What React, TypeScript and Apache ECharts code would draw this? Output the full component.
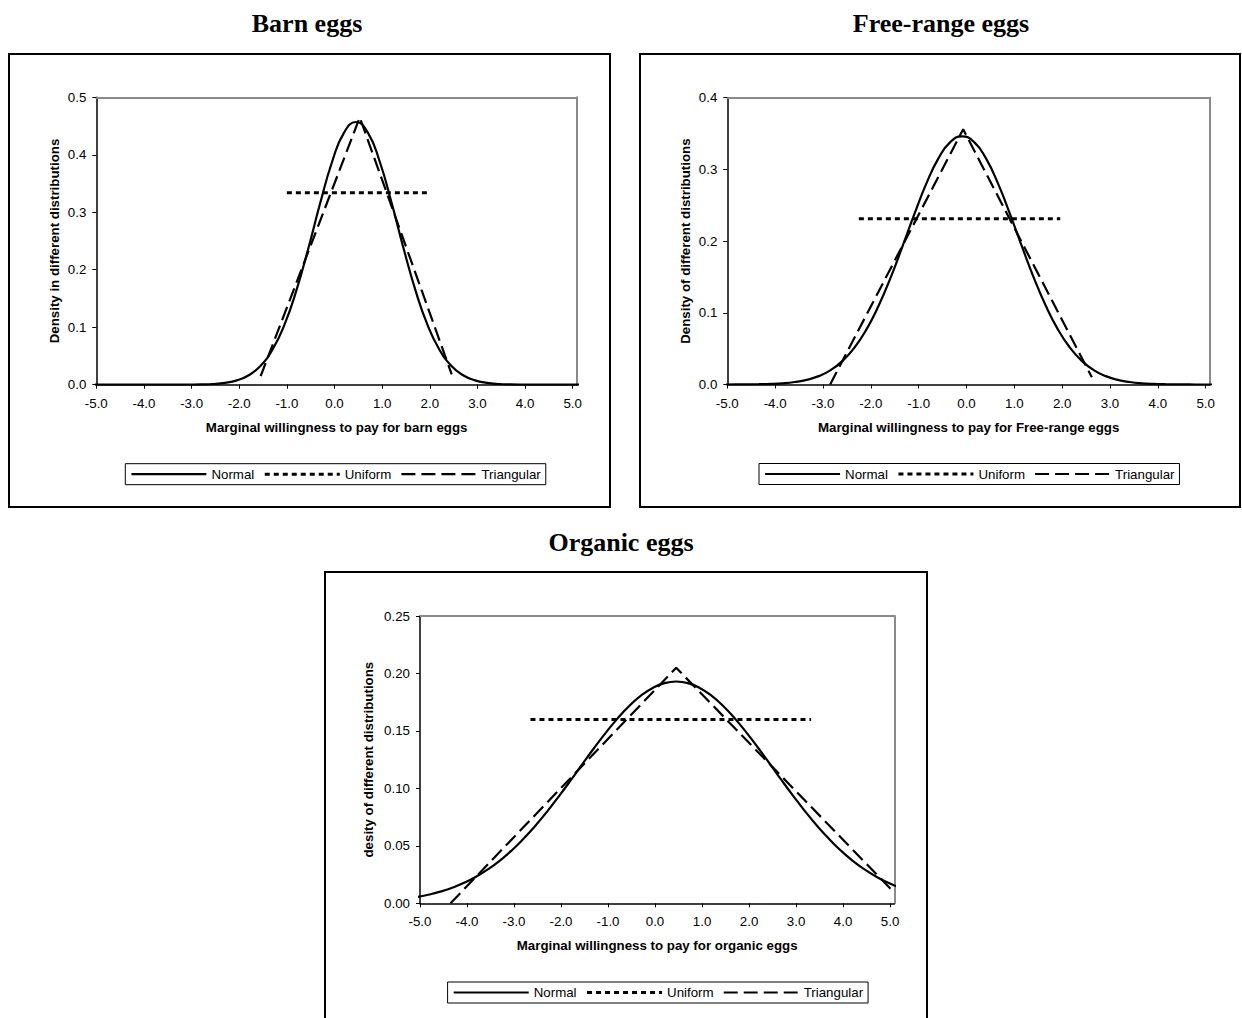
import React, { useEffect, useRef } from "react";
import * as echarts from "echarts";

// ---------- data ----------
const X_TICKS = [-5, -4, -3, -2, -1, 0, 1, 2, 3, 4, 5];

// sample points of the normal curves, centred on each curve's mode
const BARN_X = [
  -5.05, -4.8, -4.55, -4.3, -4.05, -3.8, -3.55, -3.3, -3.05, -2.8, -2.55, -2.3, -2.05, -1.8, -1.55, -1.3, -1.05, -0.8,
  -0.55, -0.3, -0.05, 0.2, 0.45, 0.7, 0.95, 1.2, 1.45, 1.7, 1.95, 2.2, 2.45, 2.7, 2.95, 3.2, 3.45, 3.7, 3.95, 4.2,
  4.45, 4.7, 4.95, 5.2,
];
const BARN_NORMAL = [
  0, 0, 0, 0, 0, 0, 0, 0, 0.0001, 0.0004, 0.0012, 0.0032, 0.0076, 0.0165, 0.0331, 0.0613, 0.1044, 0.164, 0.2371,
  0.316, 0.3879, 0.4386, 0.457, 0.4386, 0.3879, 0.316, 0.2371, 0.164, 0.1044, 0.0613, 0.0331, 0.0165, 0.0076, 0.0032,
  0.0012, 0.0004, 0.0001, 0, 0, 0, 0, 0,
];
const BARN_UNIFORM_X = [-1.0, 1.96];
const BARN_UNIFORM_Y = [0.334, 0.334];
const BARN_TRI_X = [-1.55, 0.53, 2.46];
const BARN_TRI_Y = [0.015, 0.465, 0.018];

const FREE_X = [
  -5.09, -4.84, -4.59, -4.34, -4.09, -3.84, -3.59, -3.34, -3.09, -2.84, -2.59, -2.34, -2.09, -1.84, -1.59, -1.34, -1.09,
  -0.84, -0.59, -0.34, -0.09, 0.16, 0.41, 0.66, 0.91, 1.16, 1.41, 1.66, 1.91, 2.16, 2.41, 2.66, 2.91, 3.16, 3.41, 3.66,
  3.91, 4.16, 4.41, 4.66, 4.91, 5.16,
];
const FREE_NORMAL = [
  0, 0.0001, 0.0002, 0.0004, 0.0008, 0.0017, 0.0035, 0.0065, 0.0117, 0.0201, 0.033, 0.0516, 0.0769, 0.1094, 0.1484,
  0.1923, 0.2376, 0.2801, 0.315, 0.338, 0.346, 0.338, 0.315, 0.2801, 0.2376, 0.1923, 0.1484, 0.1094, 0.0769, 0.0516,
  0.033, 0.0201, 0.0117, 0.0065, 0.0035, 0.0017, 0.0008, 0.0004, 0.0002, 0.0001, 0, 0,
];
const FREE_UNIFORM_X = [-2.25, 1.96];
const FREE_UNIFORM_Y = [0.231, 0.231];
const FREE_TRI_X = [-2.85, -0.07, 2.62];
const FREE_TRI_Y = [0, 0.356, 0.01];

const ORG_X = [
  -5.05, -4.8, -4.55, -4.3, -4.05, -3.8, -3.55, -3.3, -3.05, -2.8, -2.55, -2.3, -2.05, -1.8, -1.55, -1.3, -1.05, -0.8,
  -0.55, -0.3, -0.05, 0.2, 0.45, 0.7, 0.95, 1.2, 1.45, 1.7, 1.95, 2.2, 2.45, 2.7, 2.95, 3.2, 3.45, 3.7, 3.95, 4.2,
  4.45, 4.7, 4.95, 5.2,
];
const ORG_NORMAL = [
  0.0056, 0.0077, 0.0104, 0.0138, 0.018, 0.0233, 0.0297, 0.0372, 0.046, 0.0561, 0.0673, 0.0796, 0.0929, 0.1067,
  0.1209, 0.1349, 0.1483, 0.1607, 0.1717, 0.1807, 0.1874, 0.1916, 0.193, 0.1916, 0.1874, 0.1807, 0.1717, 0.1607,
  0.1483, 0.1349, 0.1209, 0.1067, 0.0929, 0.0796, 0.0673, 0.0561, 0.046, 0.0372, 0.0297, 0.0233, 0.018, 0.0138,
];
const ORG_UNIFORM_X = [-2.65, 3.32];
const ORG_UNIFORM_Y = [0.16, 0.16];
const ORG_TRI_X = [-4.35, 0.45, 5.05];
const ORG_TRI_Y = [0, 0.205, 0.011];

const TITLES = ["Barn eggs", "Free-range eggs", "Organic eggs"];
const X_NAMES = [
  "Marginal willingness to pay for barn eggs",
  "Marginal willingness to pay for Free-range eggs",
  "Marginal willingness to pay for organic eggs",
];
const Y_NAMES = [
  "Density in different distributions",
  "Density of different distributions",
  "desity of different distributions",
];
const SERIES_NAMES = ["Normal", "Uniform", "Triangular"];

// ---------- layout ----------
const SANS = "Liberation Sans";
const SERIF = "Liberation Serif";
const FS = 13.3;

const PANELS = [
  {
    nx: BARN_X, normal: BARN_NORMAL, ux: BARN_UNIFORM_X, uy: BARN_UNIFORM_Y, tx: BARN_TRI_X, ty: BARN_TRI_Y,
    grid: { left: 96.3, top: 97.3, width: 480.7, height: 287.4 },
    yMax: 0.5, yInt: 0.1, yDec: 1, yNameGap: 35,
    box: { x: 9, y: 54, width: 601, height: 453 },
    title: { x: 307, y: 10 },
    legend: { left: 125.3, top: 463.7 },
  },
  {
    nx: FREE_X, normal: FREE_NORMAL, ux: FREE_UNIFORM_X, uy: FREE_UNIFORM_Y, tx: FREE_TRI_X, ty: FREE_TRI_Y,
    grid: { left: 727.3, top: 97.7, width: 482.7, height: 286.8 },
    yMax: 0.4, yInt: 0.1, yDec: 1, yNameGap: 35,
    box: { x: 640, y: 54, width: 600, height: 453 },
    title: { x: 941, y: 10 },
    legend: { left: 759, top: 463.5 },
  },
  {
    nx: ORG_X, normal: ORG_NORMAL, ux: ORG_UNIFORM_X, uy: ORG_UNIFORM_Y, tx: ORG_TRI_X, ty: ORG_TRI_Y,
    grid: { left: 420, top: 616, width: 474.3, height: 287.3 },
    yMax: 0.25, yInt: 0.05, yDec: 2, yNameGap: 45.5,
    box: { x: 325, y: 572, width: 602, height: 470 },
    title: { x: 621, y: 529 },
    legend: { left: 447.6, top: 982 },
  },
];

function zip(xs: number[], ys: number[]) {
  return xs.map((x, i) => [x, ys[i]]);
}

function buildOption() {
  const grid: any[] = [];
  const xAxis: any[] = [];
  const yAxis: any[] = [];
  const series: any[] = [];
  const legend: any[] = [];
  const title: any[] = [];
  const graphic: any[] = [];

  PANELS.forEach((p, i) => {
    grid.push({ ...p.grid, show: false, outerBoundsMode: "none", containLabel: false });
    const xb = xAxis.length;
    xAxis.push({
      type: "value",
      gridIndex: i,
      position: "bottom",
      min: -5,
      max: 5.09,
      axisLine: { show: true, onZero: false, lineStyle: { color: "#000", width: 1.5 } },
      axisTick: { show: true, length: 4, customValues: X_TICKS, lineStyle: { color: "#000", width: 1 } },
      axisLabel: {
        customValues: X_TICKS,
        formatter: (v: number) => v.toFixed(1),
        margin: 12,
        fontSize: FS,
        color: "#000",
        fontFamily: SANS,
      },
      splitLine: { show: false },
      name: X_NAMES[i],
      nameLocation: "middle",
      nameGap: 36,
      nameTextStyle: { fontFamily: SANS, fontWeight: "bold", fontSize: FS, color: "#000" },
    });
    xAxis.push({
      type: "value",
      gridIndex: i,
      position: "top",
      min: -5,
      max: 5.09,
      axisLine: { show: true, onZero: false, lineStyle: { color: "#8a8a8a", width: 2 } },
      axisTick: { show: false },
      axisLabel: { show: false },
      splitLine: { show: false },
    });
    const yb = yAxis.length;
    yAxis.push({
      type: "value",
      gridIndex: i,
      position: "left",
      min: 0,
      max: p.yMax,
      interval: p.yInt,
      axisLine: { show: true, onZero: false, lineStyle: { color: "#000", width: 1.5 } },
      axisTick: { show: true, length: 4, lineStyle: { color: "#000", width: 1 } },
      axisLabel: {
        formatter: (v: number) => v.toFixed(p.yDec),
        margin: 10,
        fontSize: FS,
        color: "#000",
        fontFamily: SANS,
      },
      splitLine: { show: false },
      name: Y_NAMES[i],
      nameLocation: "middle",
      nameRotate: 90,
      nameGap: p.yNameGap,
      nameTextStyle: { fontFamily: SANS, fontWeight: "bold", fontSize: FS, color: "#000" },
    });
    yAxis.push({
      type: "value",
      gridIndex: i,
      position: "right",
      min: 0,
      max: p.yMax,
      axisLine: { show: true, onZero: false, lineStyle: { color: "#8a8a8a", width: 2 } },
      axisTick: { show: false },
      axisLabel: { show: false },
      splitLine: { show: false },
    });

    series.push({
      type: "line",
      name: SERIES_NAMES[0],
      xAxisIndex: xb,
      yAxisIndex: yb,
      data: zip(p.nx, p.normal),
      smooth: true,
      symbol: "none",
      lineStyle: { color: "#000", width: 2.2, type: "solid" },
      itemStyle: { color: "#000" },
    });
    series.push({
      type: "line",
      name: SERIES_NAMES[1],
      xAxisIndex: xb,
      yAxisIndex: yb,
      data: zip(p.ux, p.uy),
      symbol: "none",
      lineStyle: { color: "#000", width: 3, type: [5, 4] },
      itemStyle: { color: "#000" },
    });
    series.push({
      type: "line",
      name: SERIES_NAMES[2],
      xAxisIndex: xb,
      yAxisIndex: yb,
      data: zip(p.tx, p.ty),
      symbol: "none",
      lineStyle: { color: "#000", width: 2.2, type: [14, 6] },
      itemStyle: { color: "#000" },
    });

    legend.push({
      data: SERIES_NAMES,
      left: p.legend.left,
      top: p.legend.top,
      orient: "horizontal",
      itemWidth: 75,
      itemHeight: 14,
      itemGap: 9,
      padding: [4, 5],
      borderColor: "#000",
      borderWidth: 1,
      borderRadius: 0,
      backgroundColor: "#fff",
      selectedMode: false,
      textStyle: { fontFamily: SANS, fontSize: FS, color: "#000" },
      itemStyle: { opacity: 0, borderWidth: 0 },
      lineStyle: { width: "inherit" },
    });

    title.push({
      text: TITLES[i],
      left: p.title.x,
      top: p.title.y,
      textAlign: "center",
      padding: 0,
      textStyle: { fontFamily: SERIF, fontWeight: "bold", fontSize: 26, color: "#000" },
    });

    graphic.push({
      type: "rect",
      shape: { ...p.box },
      style: { fill: "none", stroke: "#000", lineWidth: 2 },
      silent: true,
      z: -1,
    });
  });

  return {
    animation: false,
    backgroundColor: "#fff",
    title,
    grid,
    xAxis,
    yAxis,
    series,
    legend,
    graphic,
  };
}

export default function App() {
  const ref = useRef<HTMLDivElement>(null);
  useEffect(() => {
    document.body.style.margin = "0";
    if (!ref.current) return;
    const chart = echarts.init(ref.current, undefined, { renderer: "svg" });
    chart.setOption(buildOption() as any);
    return () => chart.dispose();
  }, []);
  return <div ref={ref} style={{ width: 1242, height: 1018, position: "absolute", left: 0, top: 0 }} />;
}
